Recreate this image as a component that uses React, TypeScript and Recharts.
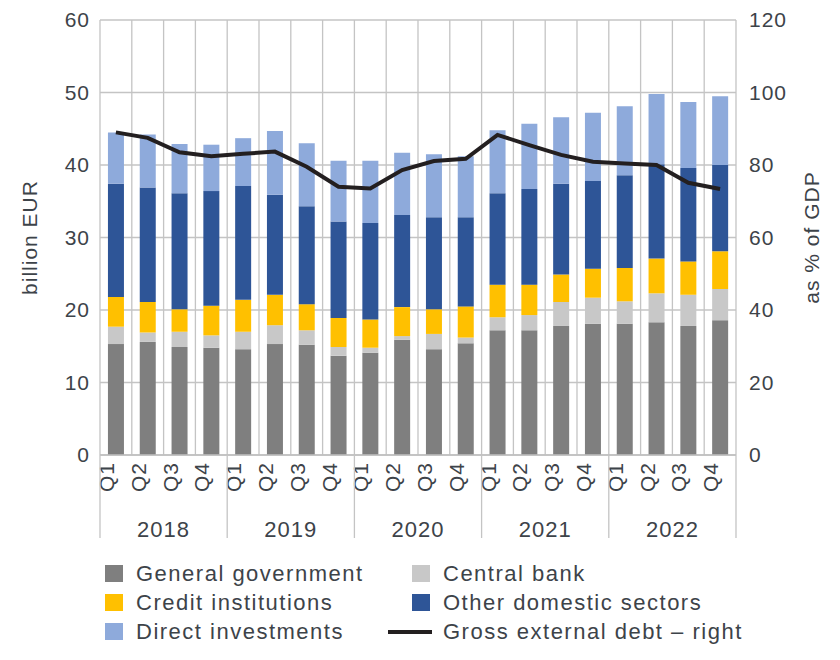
import {
  ComposedChart,
  Bar,
  Line,
  XAxis,
  YAxis,
  CartesianGrid,
} from 'recharts';

const quarters = [
  'Q1', 'Q2', 'Q3', 'Q4', 'Q1', 'Q2', 'Q3', 'Q4', 'Q1', 'Q2',
  'Q3', 'Q4', 'Q1', 'Q2', 'Q3', 'Q4', 'Q1', 'Q2', 'Q3', 'Q4',
];
const years = [
  '2018', '2018', '2018', '2018', '2019', '2019', '2019', '2019', '2020', '2020',
  '2020', '2020', '2021', '2021', '2021', '2021', '2022', '2022', '2022', '2022',
];

// billion EUR
const generalGovernment = [15.3, 15.6, 14.9, 14.8, 14.6, 15.3, 15.2, 13.7, 14.1, 15.9, 14.6, 15.4, 17.2, 17.2, 17.8, 18.1, 18.1, 18.3, 17.8, 18.6];
const centralBank = [2.4, 1.3, 2.1, 1.7, 2.4, 2.6, 2.0, 1.2, 0.7, 0.5, 2.1, 0.8, 1.8, 2.1, 3.3, 3.6, 3.1, 4.0, 4.3, 4.3];
const creditInstitutions = [4.1, 4.2, 3.1, 4.1, 4.4, 4.2, 3.6, 4.0, 3.9, 4.0, 3.4, 4.3, 4.5, 4.2, 3.8, 4.0, 4.6, 4.8, 4.6, 5.2];
const otherDomestic = [15.6, 15.8, 16.0, 15.8, 15.7, 13.8, 13.5, 13.3, 13.3, 12.7, 12.7, 12.3, 12.6, 13.2, 12.5, 12.1, 12.8, 13.0, 12.9, 11.9];
const directInvestments = [7.1, 7.3, 6.8, 6.4, 6.6, 8.8, 8.7, 8.4, 8.6, 8.6, 8.7, 8.4, 8.7, 9.0, 9.2, 9.4, 9.5, 9.7, 9.1, 9.5];
// % of GDP
const grossDebt = [89.0, 87.5, 83.5, 82.4, 83.1, 83.7, 79.5, 74.0, 73.5, 78.6, 81.1, 81.7, 88.3, 85.5, 82.8, 80.9, 80.4, 80.0, 75.1, 73.4];

const leftTicks = [0, 10, 20, 30, 40, 50, 60];
const rightTicks = [0, 20, 40, 60, 80, 100, 120];

const seriesNames = {
  gg: 'General government',
  cb: 'Central bank',
  ci: 'Credit institutions',
  od: 'Other domestic sectors',
  di: 'Direct investments',
  debt: 'Gross external debt \u2013 right',
};

const COLORS = {
  gg: '#7f7f7f',
  cb: '#c8c8c8',
  ci: '#ffc000',
  od: '#2e5597',
  di: '#8eaadb',
  debt: '#231f20',
};

const data = quarters.map((q, i) => ({
  q,
  year: years[i],
  gg: generalGovernment[i],
  cb: centralBank[i],
  ci: creditInstitutions[i],
  od: otherDomestic[i],
  di: directInvestments[i],
  debt: grossDebt[i],
}));

const W = 840;
const H = 660;
const MARGIN = { top: 20, right: 14, bottom: 110, left: 40 };
const LEFT_AXIS_W = 60;
const RIGHT_AXIS_W = 90;
const PLOT_LEFT = MARGIN.left + LEFT_AXIS_W;
const PLOT_RIGHT = W - MARGIN.right - RIGHT_AXIS_W;
const PLOT_BOTTOM = 455;
const BAND = (PLOT_RIGHT - PLOT_LEFT) / quarters.length;

const TEXT = '#3d4349';
const FONT = '"Liberation Sans", Arial, sans-serif';
const GRID = '#c4c4c4';

const QuarterTick = (props: any) => {
  const { x, payload } = props;
  const tx = x - 2;
  const ty = PLOT_BOTTOM + 7;
  return (
    <text
      x={tx}
      y={ty}
      transform={`rotate(-90, ${tx}, ${ty})`}
      textAnchor="end"
      fill={TEXT}
      fontSize={21}
      fontFamily={FONT}
      letterSpacing={1}
    >
      {payload.value}
    </text>
  );
};

const YearTick = (props: any) => {
  const { x, index, payload } = props;
  const pos = index % 4;
  return (
    <g>
      {pos === 0 && (
        <line x1={x - BAND / 2} x2={x - BAND / 2} y1={PLOT_BOTTOM} y2={538} stroke={GRID} strokeWidth={1.3} />
      )}
      {index === quarters.length - 1 && (
        <line x1={x + BAND / 2} x2={x + BAND / 2} y1={PLOT_BOTTOM} y2={538} stroke={GRID} strokeWidth={1.3} />
      )}
      {pos === 1 && (
        <text
          x={x + BAND / 2}
          y={537}
          textAnchor="middle"
          fill={TEXT}
          fontSize={22}
          fontFamily={FONT}
          letterSpacing={1}
        >
          {payload.value}
        </text>
      )}
    </g>
  );
};

const legendItems: { key: keyof typeof COLORS; type: 'bar' | 'line' }[] = [
  { key: 'gg', type: 'bar' },
  { key: 'cb', type: 'bar' },
  { key: 'ci', type: 'bar' },
  { key: 'od', type: 'bar' },
  { key: 'di', type: 'bar' },
  { key: 'debt', type: 'line' },
];

function ChartLegend() {
  return (
    <>
      {legendItems.map((item, i) => {
        const row = Math.floor(i / 2);
        const col = i % 2;
        const top = 565 + row * 29;
        const swatchX = col === 0 ? 105 : 412;
        const textX = col === 0 ? 136 : 443;
        return (
          <div key={item.key}>
            {item.type === 'bar' ? (
              <div
                style={{
                  position: 'absolute',
                  left: swatchX,
                  top,
                  width: 18,
                  height: 17,
                  background: COLORS[item.key],
                }}
              />
            ) : (
              <div
                style={{
                  position: 'absolute',
                  left: 388,
                  top: top + 6.5,
                  width: 44,
                  height: 4,
                  background: COLORS[item.key],
                }}
              />
            )}
            <span
              style={{
                position: 'absolute',
                left: textX,
                top: top + 8.5,
                transform: 'translateY(-50%)',
                lineHeight: 1,
                fontSize: 22,
                letterSpacing: 1.5,
                color: TEXT,
                whiteSpace: 'nowrap',
              }}
            >
              {seriesNames[item.key]}
            </span>
          </div>
        );
      })}
    </>
  );
}

export default function App() {
  return (
    <div
      style={{
        position: 'absolute',
        left: 0,
        top: 0,
        width: W,
        height: H,
        background: '#fff',
        fontFamily: FONT,
      }}
    >
      <ComposedChart width={W} height={H} data={data} margin={MARGIN} barCategoryGap="25%">
        <CartesianGrid
          yAxisId="left"
          stroke={GRID}
          strokeWidth={1.3}
          verticalCoordinatesGenerator={({ offset }: any) =>
            Array.from({ length: quarters.length + 1 }, (_, i) => offset.left + (i * offset.width) / quarters.length)
          }
        />
        <XAxis
          dataKey="q"
          xAxisId="q"
          height={50}
          interval={0}
          tickLine={false}
          axisLine={{ stroke: '#bfbfbf', strokeWidth: 1.5 }}
          tick={<QuarterTick />}
        />
        <XAxis
          dataKey="year"
          xAxisId="year"
          height={45}
          interval={0}
          tickLine={false}
          axisLine={false}
          tick={<YearTick />}
        />
        <YAxis
          yAxisId="left"
          width={LEFT_AXIS_W}
          domain={[0, 60]}
          ticks={leftTicks}
          tickLine={false}
          axisLine={false}
          tickMargin={4}
          tick={{ fill: TEXT, fontSize: 21, fontFamily: FONT, letterSpacing: 1 }}
          label={{
            value: 'billion EUR',
            angle: -90,
            position: 'center',
            dx: -40,
            fill: TEXT,
            fontSize: 21,
            fontFamily: FONT,
            letterSpacing: 1,
          }}
        />
        <YAxis
          yAxisId="right"
          orientation="right"
          width={RIGHT_AXIS_W}
          domain={[0, 120]}
          ticks={rightTicks}
          tickLine={false}
          axisLine={false}
          tickMargin={7}
          tick={{ fill: TEXT, fontSize: 21, fontFamily: FONT, letterSpacing: 1, textAnchor: 'start' }}
          label={{
            value: 'as % of GDP',
            angle: -90,
            position: 'center',
            dx: 31,
            fill: TEXT,
            fontSize: 21,
            fontFamily: FONT,
            letterSpacing: 1,
          }}
        />
        <Bar dataKey="gg" name={seriesNames.gg} stackId="a" xAxisId="q" yAxisId="left" fill={COLORS.gg} isAnimationActive={false} />
        <Bar dataKey="cb" name={seriesNames.cb} stackId="a" xAxisId="q" yAxisId="left" fill={COLORS.cb} isAnimationActive={false} />
        <Bar dataKey="ci" name={seriesNames.ci} stackId="a" xAxisId="q" yAxisId="left" fill={COLORS.ci} isAnimationActive={false} />
        <Bar dataKey="od" name={seriesNames.od} stackId="a" xAxisId="q" yAxisId="left" fill={COLORS.od} isAnimationActive={false} />
        <Bar dataKey="di" name={seriesNames.di} stackId="a" xAxisId="q" yAxisId="left" fill={COLORS.di} isAnimationActive={false} />
        <Line
          dataKey="debt"
          name={seriesNames.debt}
          xAxisId="q"
          yAxisId="right"
          type="linear"
          stroke={COLORS.debt}
          strokeWidth={4}
          dot={false}
          isAnimationActive={false}
        />
      </ComposedChart>
      <ChartLegend />
    </div>
  );
}
